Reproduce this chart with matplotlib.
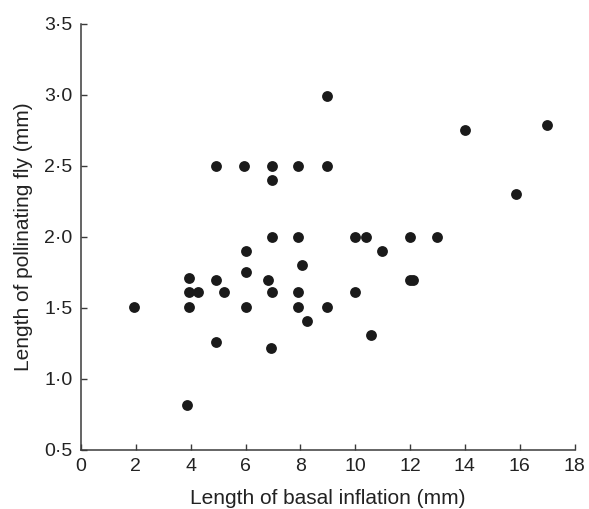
import matplotlib
matplotlib.use("Agg")
import matplotlib.pyplot as plt
from matplotlib.ticker import FuncFormatter

# Length of basal inflation (mm) vs length of pollinating fly (mm)
basal_inflation = [1.95, 3.85, 3.95, 3.95, 3.95, 4.25, 4.92, 4.92, 4.92, 5.23,
                   5.95, 6.0, 6.0, 6.0, 6.83, 6.93, 6.95, 6.95, 6.95, 6.95,
                   7.93, 7.93, 7.93, 7.93, 8.07, 8.26, 8.98, 8.96, 8.96, 9.99,
                   9.98, 10.38, 10.56, 10.96, 12.0, 12.11, 11.99, 12.97, 13.99,
                   16.98, 15.85]
fly_length = [1.51, 0.82, 1.51, 1.61, 1.71, 1.61, 1.26, 1.70, 2.5, 1.61,
              2.5, 1.51, 1.75, 1.90, 1.70, 1.22, 1.61, 2.0, 2.4, 2.5,
              1.51, 1.61, 2.0, 2.5, 1.80, 1.41, 1.51, 2.5, 2.99, 1.61,
              2.0, 2.0, 1.31, 1.90, 1.70, 1.70, 2.0, 2.0, 2.75,
              2.79, 2.30]

x_ticks = [0, 2, 4, 6, 8, 10, 12, 14, 16, 18]
y_ticks = [0.5, 1.0, 1.5, 2.0, 2.5, 3.0, 3.5]

plt.rcParams["font.family"] = ["Liberation Sans", "DejaVu Sans"]

fig = plt.figure(figsize=(5.89, 5.09), dpi=100)
ax = fig.add_axes([0.1375, 0.116, 0.838, 0.837])

ax.plot(basal_inflation, fly_length, "o", color="#1a1a1a",
        markersize=7.8, markeredgewidth=0, clip_on=False)

ax.set_xlim(0, 18)
ax.set_ylim(0.5, 3.5)
ax.set_xticks(x_ticks)
ax.set_yticks(y_ticks)
ax.xaxis.set_major_formatter(FuncFormatter(lambda v, p: f"{v:g}"))
ax.yaxis.set_major_formatter(FuncFormatter(lambda v, p: f"{v:.1f}".replace(".", "\u00b7")))

for side in ("top", "right"):
    ax.spines[side].set_visible(False)
for side in ("left", "bottom"):
    ax.spines[side].set_color("#3a3a3a")
    ax.spines[side].set_linewidth(1.1)

ax.tick_params(direction="in", length=4.5, width=1.0, color="#3a3a3a",
               labelsize=14, labelcolor="#222222")
ax.tick_params(axis="x", pad=6)
ax.tick_params(axis="y", pad=6)

ax.set_xlabel("Length of basal inflation (mm)", fontsize=15, color="#222222",
              labelpad=10)
ax.set_ylabel("Length of pollinating fly (mm)", fontsize=15, color="#222222",
              labelpad=8)

fig.savefig("out.png", dpi=100)
